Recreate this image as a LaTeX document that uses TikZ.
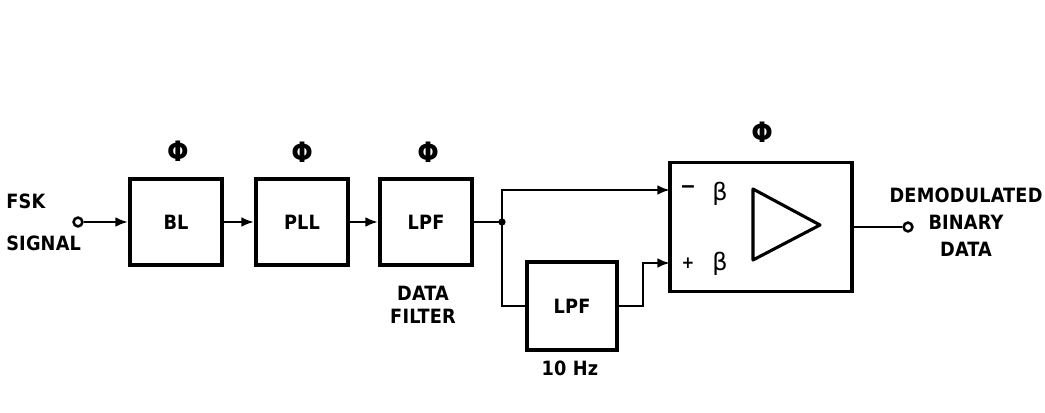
\documentclass[tikz,border=0pt]{standalone}
\usepackage{fontspec}
\newfontfamily\blockfont{DejaVu Sans Condensed}[LetterSpace=1]
\newfontfamily\greekfont{DejaVu Sans}
\usetikzlibrary{arrows.meta}
\begin{document}
\begin{tikzpicture}[x=0.025cm, y=-0.025cm,
	block/.style = {draw, line width=2.8pt, minimum width=2.3cm, minimum height=2.15cm, inner sep=0pt, font=\blockfont\bfseries\fontsize{14}{17}\selectfont},
	caption/.style = {font=\blockfont\bfseries\fontsize{14}{17}\selectfont, align=center, inner sep=0pt},
	phase/.style = {font=\blockfont\bfseries\fontsize{20}{20}\selectfont, inner sep=0pt},
	sign/.style = {font=\greekfont\fontsize{17}{17}\selectfont, inner sep=0pt},
	wire/.style = {line width=2pt},
	feed/.style = {wire, -{Latex[length=9pt, width=7pt]}},
	terminal/.style = {draw, circle, line width=1.8pt, minimum size=0.22cm, inner sep=0pt}]
	\useasboundingbox (0,0) rectangle (1045,413);
	\node [block] (bl) at (176,222) {BL};
	\node [block] (pll) at (302,222) {PLL};
	\node [block] (lpf) at (426,222) {LPF};
	\node [block, minimum width=2.25cm, minimum height=2.2cm] (slow) at (572,306) {LPF};
	\node [block, minimum width=4.55cm, minimum height=3.225cm] (amp) at (761,227) {};
	\node [phase] (phibl) at (178,151) {Φ};
	\node [phase] (phipll) at (302,152) {Φ};
	\node [phase] (philpf) at (428,152) {Φ};
	\node [phase] (phiamp) at (762,132) {Φ};
	\node [sign, font=\blockfont\bfseries\fontsize{15}{15}\selectfont] (minus) at (688,190) {−};
	\node [sign] (betaminus) at (720,194) {β};
	\node [sign, font=\blockfont\bfseries\fontsize{12}{12}\selectfont] (plus) at (688,263) {+};
	\node [sign] (betaplus) at (720,264) {β};
	\draw [line width=2.2pt, line join=round] (753,189) -- (753,260) -- (820,225) -- cycle;
	\node [terminal] (in) at (78,222) {};
	\node [terminal] (out) at (908,227) {};
	\coordinate (split) at (502,222);
	\coordinate (minusin) at (670,190);
	\coordinate (plusin) at (670,263);
	\coordinate (bend) at (643,306);
	\draw [feed] (in) -- (bl);
	\draw [feed] (bl) -- (pll);
	\draw [feed] (pll) -- (lpf);
	\draw [wire] (lpf) -- (split);
	\fill (split) circle (2.6pt);
	\draw [feed] (split) |- (minusin);
	\draw [wire] (split) |- (slow);
	\draw [feed] (slow) -- (bend) |- (plusin);
	\draw [wire] (amp) -- (out);
	\node [caption, anchor=west, align=left] (fsk) at (6,222) {FSK\\[13pt]SIGNAL};
	\node [caption] (datafilter) at (423,305) {DATA\\[-0.7pt]FILTER};
	\node [caption] (tenhz) at (570,368) {10 Hz};
	\node [caption] (demod) at (966,222) {DEMODULATED\\[2pt]BINARY\\[2pt]DATA};
\end{tikzpicture}
\end{document}
